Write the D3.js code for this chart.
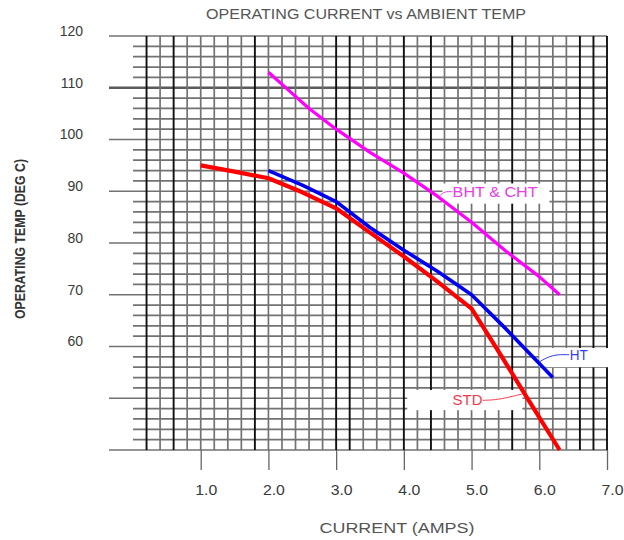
<!DOCTYPE html>
<meta charset="utf-8">
<style>
 body { margin: 0; background: #fff; }
 svg { font-family: "Liberation Sans", Arial, sans-serif; background: #fff; }
</style>
<body>
<svg width="624" height="540"></svg>
<script src="https://d3js.org/d3.v7.min.js"></script>
<script>
 // series (current in amps, temperature in deg C)
 var ampsStd = [1.0, 1.5, 2.0, 2.5, 3.0, 3.5, 4.0, 4.5, 5.0, 5.4, 5.8, 6.3];
 var tempStd = [95, 93.8, 92.5, 89.8, 86.7, 82, 77.4, 72.5, 67.3, 59, 50.5, 40];
 var ampsHt  = [2.0, 2.5, 3.0, 3.5, 4.0, 4.5, 5.0, 5.5, 6.2];
 var tempHt  = [94, 91.2, 88, 83, 78.6, 74.5, 70, 63.5, 54];
 var ampsBht = [2.0, 2.3, 2.6, 3.0, 3.5, 4.0, 4.5, 5.0, 5.5, 6.0, 6.3];
 var tempBht = [113, 109.5, 106, 102, 97.5, 93.5, 89, 84, 78.5, 73.5, 70];

 var xTickLabels = ["1.0", "2.0", "3.0", "4.0", "5.0", "6.0", "7.0"];
 var yTickLabels = ["120", "110", "100", "90", "80", "70", "60"];
 // the darker verticals of the printed grid paper
 var heavyX = [0.2, 0.6, 1.8, 3.0, 3.2, 4.0, 4.4, 5.6, 6.6, 6.8, 7.0];

 var svg = d3.select("svg"),
     margin = {top: 36, right: 17, bottom: 90, left: 133},
     width = +svg.attr("width") - margin.left - margin.right,
     height = +svg.attr("height") - margin.top - margin.bottom;

 var x = d3.scaleLinear().domain([0, 7]).range([margin.left, margin.left + width]);
 var y = d3.scaleLinear().domain([40, 120]).range([margin.top + height, margin.top]);

 var grid = svg.append("g").attr("class", "grid");

 // horizontal lines every 2 degrees
 var yLines = d3.range(40, 121, 2);
 grid.selectAll("line.h")
     .data(yLines)
     .enter().append("line")
     .attr("class", "h")
     .attr("x1", function(d) { return d % 10 == 0 ? 109 : x(0); })
     .attr("x2", x(7))
     .attr("y1", function(d) { return y(d); })
     .attr("y2", function(d) { return y(d); })
     .attr("stroke", function(d) { return d == 110 ? "#5a5a5a" : "#727272"; })
     .attr("stroke-width", function(d) { return d == 110 ? 2.4 : 1.7; });

 // vertical lines every 0.2 amp
 var xLines = d3.range(1, 36).map(function(i) { return +(i * 0.2).toFixed(1); });
 grid.selectAll("line.v")
     .data(xLines)
     .enter().append("line")
     .attr("class", "v")
     .attr("x1", function(d) { return x(d); })
     .attr("x2", function(d) { return x(d); })
     .attr("y1", y(120))
     .attr("y2", y(40))
     .attr("stroke", function(d) { return heavyX.indexOf(d) != -1 ? "#111" : "#727272"; })
     .attr("stroke-width", function(d) { return heavyX.indexOf(d) != -1 ? 1.9 : 1.7; });

 // x ticks below the grid
 var xAxis = d3.axisBottom(x)
     .tickValues([1, 2, 3, 4, 5, 6, 7])
     .tickSize(20)
     .tickFormat(function(d, i) { return xTickLabels[i]; });
 var xAxisG = svg.append("g")
     .attr("transform", "translate(0," + y(40) + ")")
     .call(xAxis);
 xAxisG.select(".domain").remove();
 xAxisG.selectAll(".tick line").attr("stroke", "#666").attr("stroke-width", 1.3);
 xAxisG.selectAll(".tick text")
     .attr("y", 35).attr("dx", 5)
     .attr("fill", "#3a3a3a")
     .attr("textLength", 22)
     .attr("lengthAdjust", "spacingAndGlyphs")
     .style("font-size", "14px")
     .style("font-family", "Liberation Sans, Arial, sans-serif");

 // y labels
 var yAxis = d3.axisLeft(y)
     .tickValues([120, 110, 100, 90, 80, 70, 60])
     .tickSize(0)
     .tickFormat(function(d, i) { return yTickLabels[i]; });
 var yAxisG = svg.append("g")
     .attr("transform", "translate(83,0)")
     .call(yAxis);
 yAxisG.select(".domain").remove();
 yAxisG.selectAll(".tick text")
     .attr("x", 0).attr("dy", "-0.05em")
     .attr("fill", "#3a3a3a")
     .style("font-size", "14px")
     .style("font-family", "Liberation Sans, Arial, sans-serif");

 // callout boxes sit under the curves
 var callouts = [
     {text: "BHT & CHT", color: "#e83ce8", box: [4.57, 91.5, 6.15, 87.6], at: [4.72, 89.9], len: 85,
      leader: [[4.53, 89.1], [4.6, 90], [4.72, 89.9]]},
     {text: "HT", color: "#2f3ff0", box: [6.0, 59.7, 7.05, 56.0], at: [6.45, 58.4], len: 18,
      leader: [[6.01, 57.1], [6.2, 58.5], [6.44, 58.4]]},
     {text: "STD", color: "#f43a4a", box: [4.05, 51.6, 5.75, 47.7], at: [4.72, 49.6], len: 30,
      leader: [[5.17, 49.6], [5.4, 49.7], [5.74, 50.8]]}
 ];
 svg.selectAll("rect.callout")
     .data(callouts)
     .enter().append("rect")
     .attr("class", "callout")
     .attr("x", function(d) { return x(d.box[0]); })
     .attr("y", function(d) { return y(d.box[1]); })
     .attr("width", function(d) { return x(d.box[2]) - x(d.box[0]); })
     .attr("height", function(d) { return y(d.box[3]) - y(d.box[1]); })
     .attr("fill", "#fff");

 // curves
 var line = d3.line()
     .x(function(d) { return x(d[0]); })
     .y(function(d) { return y(d[1]); });

 var series = [
     {name: "BHT", amps: ampsBht, temp: tempBht, color: "#ff00ff", w: 3.2},
     {name: "STD", amps: ampsStd, temp: tempStd, color: "#ff0000", w: 4.2},
     {name: "HT",  amps: ampsHt,  temp: tempHt,  color: "#0000f0", w: 3.6}
 ];
 svg.selectAll("path.curve")
     .data(series)
     .enter().append("path")
     .attr("class", "curve")
     .attr("fill", "none")
     .attr("stroke", function(d) { return d.color; })
     .attr("stroke-width", function(d) { return d.w; })
     .attr("stroke-linejoin", "round")
     .attr("d", function(d) { return line(d.amps.map(function(a, i) { return [a, d.temp[i]]; })); });

 var cg = svg.selectAll("g.callout")
     .data(callouts)
     .enter().append("g")
     .attr("class", "callout");
 cg.append("path")
     .attr("fill", "none")
     .attr("stroke", function(d) { return d.color; })
     .attr("stroke-width", 1)
     .attr("d", function(d) { return d3.line().curve(d3.curveBasis).x(function(p) { return x(p[0]); }).y(function(p) { return y(p[1]); })(d.leader); });
 cg.append("text")
     .attr("x", function(d) { return x(d.at[0]); })
     .attr("y", function(d) { return y(d.at[1]); })
     .attr("dy", "0.36em")
     .attr("fill", function(d) { return d.color; })
     .attr("textLength", function(d) { return d.len; })
     .attr("lengthAdjust", "spacingAndGlyphs")
     .style("font-size", "14px")
     .text(function(d) { return d.text; });

 // titles
 svg.append("text")
     .attr("x", 366).attr("y", 19)
     .attr("text-anchor", "middle")
     .attr("fill", "#555")
     .attr("textLength", 320)
     .attr("lengthAdjust", "spacingAndGlyphs")
     .style("font-size", "14px")
     .text("OPERATING CURRENT vs AMBIENT TEMP");

 svg.append("text")
     .attr("x", 397).attr("y", 533)
     .attr("text-anchor", "middle")
     .attr("fill", "#555")
     .attr("textLength", 155)
     .attr("lengthAdjust", "spacingAndGlyphs")
     .style("font-size", "14px")
     .text("CURRENT (AMPS)");

 svg.append("text")
     .attr("transform", "translate(25,239) rotate(-90)")
     .attr("text-anchor", "middle")
     .attr("fill", "#333")
     .attr("textLength", 160)
     .attr("lengthAdjust", "spacingAndGlyphs")
     .style("font-size", "15px")
     .style("font-weight", "bold")
     .text("OPERATING TEMP (DEG C)");
</script>
</body>
